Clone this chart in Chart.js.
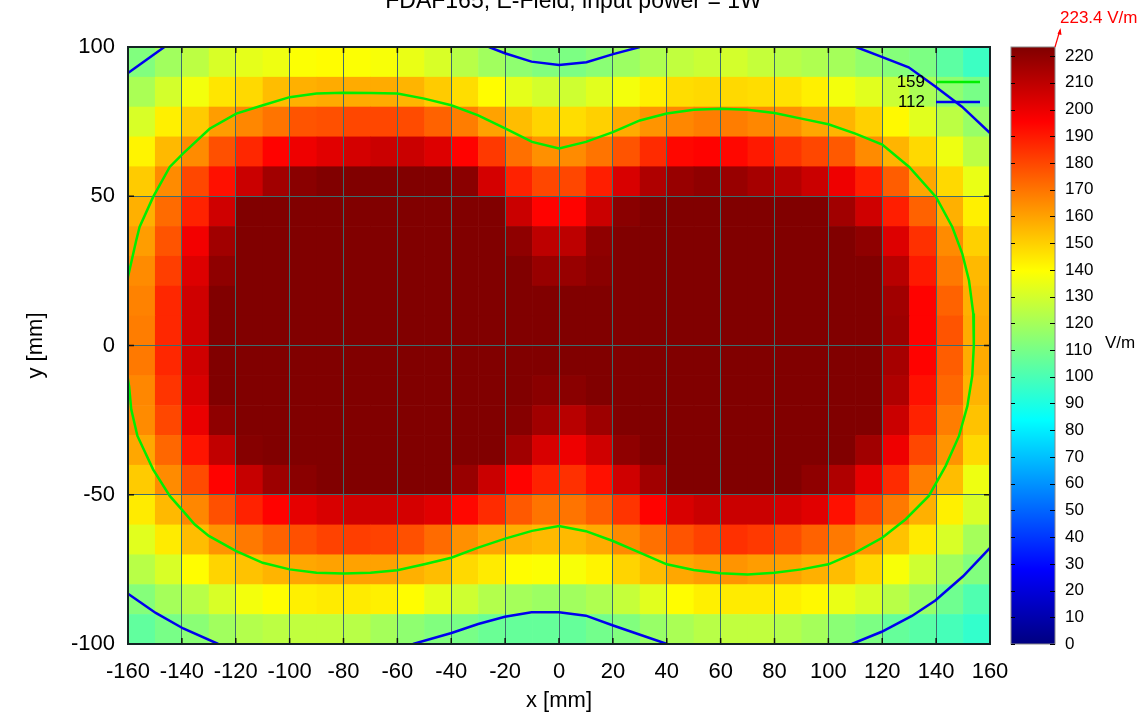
<!DOCTYPE html>
<html>
<head>
<meta charset="utf-8">
<title>FDAF165 E-Field</title>
<script src="https://cdn.jsdelivr.net/npm/chart.js@4/dist/chart.umd.min.js"></script>
<style>
  html, body { margin: 0; padding: 0; background: #fff; }
  #wrap { width: 1147px; height: 716px; }
</style>
</head>
<body>
<div id="wrap"><canvas id="fieldChart" width="1147" height="716"></canvas></div>
<script>
// cell centres (mm)
const xCells = [-155, -145, -135, -125, -115, -105, -95, -85, -75, -65, -55, -45, -35, -25, -15, -5,
                5, 15, 25, 35, 45, 55, 65, 75, 85, 95, 105, 115, 125, 135, 145, 155];
const yCells = [95, 85, 75, 65, 55, 45, 35, 25, 15, 5, -5, -15, -25, -35, -45, -55, -65, -75, -85, -95];

// E-field in V/m, one row per y (top to bottom)
const field = [
  [112,119,125,131,134,136,139,140,139,138,135,131,124,119,115,112, 111,114,118,122,126,128,130,127,124,122,120,116,113,111,104,97],
  [121,130,137,145,148,154,157,158,158,158,156,151,147,140,134,130, 129,133,137,143,147,148,148,147,146,143,137,133,128,121,115,110],
  [131,143,151,161,166,170,177,178,180,180,179,174,168,160,154,149, 147,150,158,163,166,168,168,166,164,159,156,150,141,133,125,117],
  [142,155,165,178,187,195,199,202,205,207,207,203,195,183,171,164, 165,170,177,186,194,195,194,190,184,180,176,165,156,148,136,125],
  [151,165,180,192,207,216,221,223,223,223,223,223,221,205,188,180, 180,189,204,213,218,220,218,215,212,207,199,189,175,159,148,135],
  [157,172,188,206,223,223,223,223,223,223,223,223,223,223,207,195, 195,207,221,223,223,223,223,223,223,223,216,206,189,174,157,143],
  [161,177,198,216,223,223,223,223,223,223,223,223,223,223,220,210, 210,220,223,223,223,223,223,223,223,223,223,220,203,185,165,150],
  [165,182,203,220,223,223,223,223,223,223,223,223,223,223,223,218, 218,221,223,223,223,223,223,223,223,223,223,223,211,190,169,155],
  [167,187,206,223,223,223,223,223,223,223,223,223,223,223,223,223, 223,223,223,223,223,223,223,223,223,223,223,223,216,195,174,157],
  [168,187,206,223,223,223,223,223,223,223,223,223,223,223,223,223, 223,223,223,223,223,223,223,223,223,223,223,223,217,195,177,158],
  [169,187,206,223,223,223,223,223,223,223,223,223,223,223,223,223, 223,223,223,223,223,223,223,223,223,223,223,223,215,195,175,158],
  [166,184,204,223,223,223,223,223,223,223,223,223,223,223,223,221, 221,223,223,223,223,223,223,223,223,223,223,223,213,192,173,156],
  [165,180,200,220,223,223,223,223,223,223,223,223,223,223,222,216, 211,217,223,223,223,223,223,223,223,223,223,223,207,188,168,153],
  [159,173,191,209,222,223,223,223,223,223,223,223,223,223,216,204, 199,206,220,223,223,223,223,223,223,223,223,216,199,180,163,148],
  [151,165,179,195,208,217,221,223,223,223,223,223,218,207,195,188, 185,192,206,216,223,223,223,223,223,220,213,201,186,168,154,136],
  [144,155,166,178,188,195,201,204,206,206,205,202,194,186,176,170, 170,175,184,195,204,207,207,207,205,202,192,180,169,157,143,131],
  [133,144,154,163,169,174,178,181,182,181,178,172,164,159,157,155, 155,158,165,171,177,181,185,183,179,174,169,163,153,144,131,120],
  [124,131,140,149,153,156,159,160,160,160,157,154,148,144,140,139, 138,142,149,154,159,161,163,161,160,157,154,148,138,129,119,112],
  [113,120,124,131,137,140,143,144,144,143,140,134,129,123,120,118, 119,122,127,133,140,143,144,144,143,141,135,131,124,117,108,101],
  [105,110,114,119,123,125,126,126,124,120,115,112,110,107,106,106, 106,109,112,117,121,124,126,126,123,120,114,111,106,103,99,95]
];

const fieldMax = 223.4;

// contour 159 V/m (one open loop, leaves the plot on the left)
const contour159 = [
  [-160.6,17],[-160,23],[-157,35],[-155.7,39.7],[-150.7,49.7],[-144.5,59.8],[-139.6,64.3],[-129.7,72.6],
  [-119.8,77.7],[-109.9,80.5],[-100,83.2],[-90,84.4],[-80,84.7],[-70,84.6],[-60,84.4],[-50,82.7],
  [-40,80.5],[-30,77.1],[-20,72.7],[-10,68.2],[0,66],[10,68.2],[20,71.5],[30,75.4],[40,77.7],
  [50,79],[60,79.3],[70,79],[80,77.9],[90,76],[100,74.1],[110,71],[120,67.3],[130,59.8],[140,49.7],
  [146,39.7],[149.7,30.8],[152.2,21.8],[153.8,10.7],[154,0],[153.4,-10.2],[151.6,-20.3],[148.5,-30.3],
  [143.5,-40.4],[137.3,-50.4],[128.7,-58.2],[120,-64.4],[110,-69.4],[100,-73.3],[90,-75],[80,-76.1],
  [70,-76.7],[60,-76.3],[50,-75.2],[40,-73.3],[30,-69.4],[20,-65.5],[10,-62.2],[0,-60.5],[-10,-62.1],
  [-20,-64.7],[-30,-67.7],[-40,-71.1],[-50,-73.3],[-60,-75.3],[-70,-76.1],[-80,-76.4],[-90,-76.1],
  [-100,-75],[-110,-72.8],[-120,-68.8],[-130,-63.8],[-135.3,-59.9],[-139.6,-55.4],[-144.5,-50.4],
  [-150.7,-41.5],[-156.5,-30.3],[-158.8,-21.4],[-159.6,-13.6],[-160.6,-8]
];

// contour 112 V/m, six pieces split by null
const contour112 = [
  [-160,91.3],[-146.5,100], null,
  [-26,100],[-20.1,97.9],[-10.2,95.1],[0,94],[10.2,94.9],[20.1,97.6],[30,100], null,
  [110.3,100],[119.8,96.7],[129.8,93.2],[139.7,86.8],[149.6,80],[160,71.2], null,
  [-160,-83.2],[-149.7,-89.6],[-139.5,-94.8],[-126.5,-100], null,
  [-54.2,-100],[-39.9,-96.3],[-30,-93.3],[-20.1,-90.9],[-10.2,-89.4],[0,-89.4],[10,-90.5],
  [20.1,-93.8],[30.1,-96.9],[40.1,-100], null,
  [108.7,-100],[119.8,-95.9],[131,-90.6],[139.7,-85.4],[150,-77.3],[160,-67.8]
];

const contourLabels = ['159', '112'];

function toPoints(list) {
  return list.map(p => p ? {x: p[0], y: p[1]} : {x: 0, y: null});
}

function clamp01(v) { return Math.max(0, Math.min(1, v)); }

// jet colour map
function jet(v) {
  const t = clamp01(v / fieldMax);
  const r = clamp01(Math.min(4 * t - 1.5, -4 * t + 4.5));
  const g = clamp01(Math.min(4 * t - 0.5, -4 * t + 3.5));
  const b = clamp01(Math.min(4 * t + 0.5, -4 * t + 2.5));
  return 'rgb(' + Math.round(r * 255) + ',' + Math.round(g * 255) + ',' + Math.round(b * 255) + ')';
}

const cellPlugin = {
  id: 'cells',
  beforeDraw(chart) {
    const {ctx, chartArea, scales: {x, y}} = chart;
    const hx = (xCells[1] - xCells[0]) / 2;
    const hy = (yCells[0] - yCells[1]) / 2;
    ctx.save();
    ctx.beginPath();
    ctx.rect(chartArea.left, chartArea.top, chartArea.width, chartArea.height);
    ctx.clip();
    field.forEach((row, i) => {
      row.forEach((v, j) => {
        const x0 = x.getPixelForValue(xCells[j] - hx);
        const x1 = x.getPixelForValue(xCells[j] + hx);
        const y0 = y.getPixelForValue(yCells[i] + hy);
        const y1 = y.getPixelForValue(yCells[i] - hy);
        ctx.fillStyle = jet(v);
        ctx.fillRect(x0, y0, x1 - x0 + 0.6, y1 - y0 + 0.6);
      });
    });
    ctx.restore();
  }
};

const framePlugin = {
  id: 'frame',
  afterDatasetsDraw(chart) {
    const {ctx, chartArea: a, scales: {x, y, cb}} = chart;
    ctx.save();

    // little inward ticks on all four sides
    ctx.strokeStyle = '#111';
    ctx.lineWidth = 1.5;
    x.ticks.forEach(t => {
      const px = x.getPixelForValue(t.value);
      ctx.beginPath();
      ctx.moveTo(px, a.top); ctx.lineTo(px, a.top + 6);
      ctx.moveTo(px, a.bottom); ctx.lineTo(px, a.bottom - 6);
      ctx.stroke();
    });
    y.ticks.forEach(t => {
      const py = y.getPixelForValue(t.value);
      ctx.beginPath();
      ctx.moveTo(a.left, py); ctx.lineTo(a.left + 6, py);
      ctx.moveTo(a.right, py); ctx.lineTo(a.right - 6, py);
      ctx.stroke();
    });
    ctx.strokeStyle = '#142424';
    ctx.lineWidth = 2;
    ctx.strokeRect(a.left, a.top, a.width, a.height);

    // legend inside the plot, top right
    ctx.font = '17px "Liberation Sans", Arial, sans-serif';
    ctx.textAlign = 'right';
    ctx.textBaseline = 'middle';
    chart.data.datasets.forEach((ds, i) => {
      const ly = a.top + 35 + i * 20;
      ctx.fillStyle = '#000';
      ctx.fillText(ds.label, a.right - 65, ly);
      ctx.strokeStyle = ds.borderColor;
      ctx.lineWidth = 2.5;
      ctx.beginPath();
      ctx.moveTo(a.right - 54, ly); ctx.lineTo(a.right - 10, ly);
      ctx.stroke();
    });

    // colour bar
    const bx = cb.left + 21, bw = 44;
    const top = cb.getPixelForValue(fieldMax), bottom = cb.getPixelForValue(0);
    const grad = ctx.createLinearGradient(0, bottom, 0, top);
    [[0, '#000080'], [0.125, '#0000ff'], [0.375, '#00ffff'], [0.625, '#ffff00'], [0.875, '#ff0000'], [1, '#800000']]
      .forEach(s => grad.addColorStop(s[0], s[1]));
    ctx.fillStyle = grad;
    ctx.fillRect(bx, top, bw, bottom - top);
    ctx.strokeStyle = '#888';
    ctx.lineWidth = 1;
    ctx.strokeRect(bx, top, bw, bottom - top);
    ctx.strokeStyle = '#000';
    cb.ticks.forEach(t => {
      const py = Math.round(cb.getPixelForValue(t.value)) + 0.5;
      ctx.beginPath();
      ctx.moveTo(bx, py); ctx.lineTo(bx + 4, py);
      ctx.moveTo(bx + bw - 5, py); ctx.lineTo(bx + bw, py);
      ctx.stroke();
    });

    ctx.fillStyle = '#000';
    ctx.textAlign = 'left';
    ctx.fillText('V/m', bx + 94, (top + bottom) / 2 - 2);

    // max marker
    ctx.strokeStyle = '#ff0000';
    ctx.fillStyle = '#ff0000';
    ctx.lineWidth = 1.2;
    ctx.beginPath();
    ctx.moveTo(bx + bw, top); ctx.lineTo(bx + bw + 5, top - 17);
    ctx.stroke();
    ctx.beginPath();
    ctx.moveTo(bx + bw + 5.5, top - 19);
    ctx.lineTo(bx + bw + 2.5, top - 13);
    ctx.lineTo(bx + bw + 6.5, top - 12);
    ctx.closePath();
    ctx.fill();
    ctx.fillText(fieldMax.toFixed(1) + ' V/m', bx + bw + 5, top - 29);

    ctx.restore();
  }
};

Chart.defaults.font.family = '"Liberation Sans", Arial, sans-serif';
Chart.defaults.color = '#000';

new Chart('fieldChart', {
  type: 'scatter',
  data: {
    datasets: [{
      label: contourLabels[0],
      data: toPoints(contour159),
      showLine: true,
      borderColor: '#00ee00',
      borderWidth: 2.5,
      pointRadius: 0
    }, {
      label: contourLabels[1],
      data: toPoints(contour112),
      showLine: true,
      borderColor: '#0000ee',
      borderWidth: 2.5,
      pointRadius: 0
    }]
  },
  options: {
    responsive: false,
    animation: false,
    layout: { padding: 0 },
    plugins: {
      legend: { display: false },
      tooltip: { enabled: false },
      title: {
        display: true,
        text: 'FDAF165, E-Field, input power = 1W',
        color: '#000',
        font: { size: 23, weight: 'normal' },
        padding: { top: -12, bottom: 31.4 }
      }
    },
    scales: {
      x: {
        type: 'linear', min: -160, max: 160,
        ticks: { stepSize: 20, padding: 15, autoSkip: false, font: { size: 22 } },
        grid: { color: '#3d6e6e', lineWidth: 1, drawTicks: false },
        border: { display: false },
        title: { display: true, text: 'x [mm]', font: { size: 22 }, padding: { top: 0, bottom: 2 } },
        afterFit(s) { s.height = 72; }
      },
      y: {
        type: 'linear', min: -100, max: 100,
        ticks: { stepSize: 50, padding: 13, font: { size: 22 } },
        grid: { color: '#3d6e6e', lineWidth: 1, drawTicks: false },
        border: { display: false },
        title: { display: true, text: 'y [mm]', font: { size: 22 }, padding: { top: 23, bottom: 0 } },
        afterFit(s) { s.width = 128; }
      },
      cb: {
        type: 'linear', position: 'right', min: 0, max: fieldMax,
        ticks: { stepSize: 10, includeBounds: false, padding: 3, autoSkip: false, font: { size: 17 } },
        grid: { display: false, drawTicks: true, tickLength: 72 },
        border: { display: false },
        afterFit(s) { s.width = 157; }
      }
    }
  },
  plugins: [cellPlugin, framePlugin]
});
</script>
</body>
</html>
